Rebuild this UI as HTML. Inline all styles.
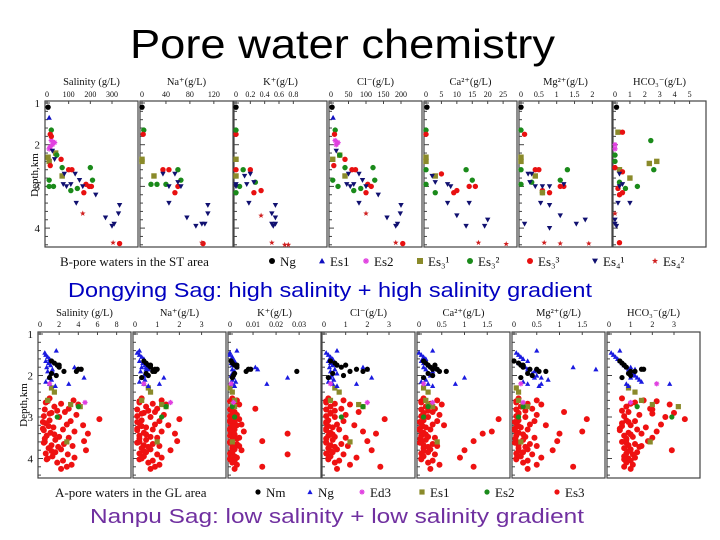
<!DOCTYPE html>
<html><head><meta charset="utf-8"><style>
html,body{margin:0;padding:0;background:#fff;}
svg{display:block;}
.ser{font-family:"Liberation Serif",serif;}
</style></head><body>
<svg id="c" width="720" height="540" viewBox="0 0 720 540" xmlns="http://www.w3.org/2000/svg">
<text x="130" y="58" textLength="425" lengthAdjust="spacingAndGlyphs" font-family="Liberation Sans, sans-serif" font-size="41" fill="#000">Pore water chemistry</text>
<text x="68" y="297" textLength="524" lengthAdjust="spacingAndGlyphs" font-family="Liberation Sans, sans-serif" font-size="20" fill="#0000c0">Dongying Sag:   high salinity  +  high salinity gradient</text>
<text x="90" y="523" textLength="494" lengthAdjust="spacingAndGlyphs" font-family="Liberation Sans, sans-serif" font-size="20" fill="#7030a0">Nanpu Sag:   low salinity  +  low salinity gradient</text>
<g id="g"></g>
</svg>
<script>
// ---------- TOP (Dongying) data: [series, value, depth] ----------
const topTitles = ["Salinity (g/L)","Na⁺(g/L)","K⁺(g/L)","Cl⁻(g/L)","Ca²⁺(g/L)","Mg²⁺(g/L)","HCO₃⁻(g/L)"];
const topTicks = [[0,100,200,300],[0,40,80,120],[0,0.2,0.4,0.6,0.8],[0,50,100,150,200],[0,5,10,15,20,25],[0,0.5,1.0,1.5,2.0],[0,1,2,3,4,5]];
const topMax = [420,152,1.27,260,29.5,2.55,6.1];
const topSal = [["ng",5,1.1],["es1",10,1.35],["es2",20,1.9],["es2",25,2.0],["es2",15,2.05],["es2",35,1.95],["es2",10,2.1],
["s31",5,2.3],["s31",10,2.4],["s31",40,2.2],["s31",70,2.75],
["s32",20,1.65],["s32",45,2.25],["s32",10,2.85],["s32",10,3.0],["s32",30,3.0],["s32",70,2.55],["s32",110,3.1],["s32",140,3.05],["s32",200,2.55],["s32",210,2.85],
["s33",15,1.75],["s33",20,1.8],["s33",15,2.5],["s33",65,2.35],["s33",100,2.6],["s33",115,2.6],["s33",180,2.95],["s33",195,3.0],["s33",205,3.0],["s33",170,3.15],["s33",335,4.37],
["s41",25,2.15],["s41",35,2.35],["s41",80,2.7],["s41",75,2.95],["s41",90,3.0],["s41",110,2.95],["s41",130,2.7],["s41",150,2.85],["s41",165,3.0],["s41",225,3.2],["s41",135,3.4],["s41",270,3.75],["s41",300,3.95],["s41",310,3.9],["s41",335,3.45],["s41",330,3.65],
["s42",165,3.65],["s42",305,4.35]];
const topNa = [["ng",0,1.1],["s32",3,1.65],["s32",15,2.95],["s32",25,2.95],["s32",40,2.95],["s32",60,2.6],["s32",65,2.85],
["s33",2,1.75],["s33",35,2.6],["s33",45,2.6],["s33",55,3.15],["s33",60,3.0],["s33",102,4.37],
["s31",0,2.35],["s31",0,2.4],["s31",20,2.75],
["s41",35,2.7],["s41",45,3.0],["s41",55,2.7],["s41",60,2.9],["s41",65,3.0],["s41",45,3.4],["s41",75,3.75],["s41",90,3.95],["s41",100,3.9],["s41",105,3.9],["s41",110,3.45],["s41",110,3.65],["s42",100,4.35]];
const topK = [["ng",0,1.1],["s33",0,1.75],["s33",0,2.6],["s33",0.2,2.6],["s33",0.25,3.15],["s33",0.35,3.1],
["s32",0,1.65],["s32",0.1,2.6],["s32",0.05,3.0],["s32",0.27,2.9],["s32",0,3.15],["s31",0,2.35],["s31",0,2.75],
["s41",0,2.95],["s41",0,3.0],["s41",0.12,2.75],["s41",0.15,2.95],["s41",0.2,2.7],["s41",0.25,2.9],["s41",0.18,3.4],["s41",0.5,3.9],["s41",0.52,3.95],["s41",0.55,3.9],["s41",0.5,3.65],["s41",0.55,3.75],["s41",0.55,3.45],
["s42",0.35,3.7],["s42",0.5,4.35],["s42",0.68,4.4],["s42",0.73,4.4]];
const topCl = [["ng",3,1.1],["es1",6,1.35],["es2",12,1.9],["es2",15,2.0],["es2",20,1.95],["s31",5,2.35],["s31",25,2.25],["s31",40,2.75],
["s32",12,1.65],["s32",25,2.25],["s32",5,2.85],["s32",20,3.0],["s32",40,2.55],["s32",65,3.1],["s32",85,3.05],["s32",120,2.55],["s32",125,2.85],
["s33",10,1.75],["s33",8,2.5],["s33",40,2.35],["s33",60,2.6],["s33",70,2.6],["s33",105,2.95],["s33",115,3.0],["s33",100,3.15],["s33",205,4.37],
["s41",15,2.15],["s41",50,2.7],["s41",45,2.95],["s41",55,3.0],["s41",65,2.95],["s41",80,2.7],["s41",90,2.85],["s41",100,3.0],["s41",135,3.2],["s41",80,3.4],["s41",160,3.75],["s41",185,3.95],["s41",190,3.9],["s41",200,3.45],["s41",198,3.65],
["s42",100,3.65],["s42",185,4.35]];
const topCa = [["ng",0.3,1.1],["s32",0,1.65],["s32",0,2.6],["s32",0,2.95],["s32",3,3.15],["s32",13,2.6],["s32",15,2.85],
["s33",0,1.75],["s33",5,2.7],["s33",9,3.15],["s33",10,3.1],["s33",14,3.0],["s33",16,3.0],["s31",0,2.3],["s31",0,2.4],["s31",3,2.75],
["s41",2,2.75],["s41",3,2.9],["s41",7,2.95],["s41",8,3.0],["s41",7,3.4],["s41",10,3.7],["s41",13,3.95],["s41",14,3.4],["s41",19,3.95],["s41",20,3.8],
["s42",17,4.35],["s42",26,4.38]];
const topMg = [["ng",0,1.1],["s32",0,1.65],["s32",0,2.6],["s32",0,2.95],["s32",0.3,2.9],["s32",0.6,3.15],["s32",1.3,2.6],["s32",1.1,2.85],
["s33",0.1,1.75],["s33",0.4,2.6],["s33",0.5,2.6],["s33",0.6,3.1],["s33",0.8,3.15],["s33",1.1,3.0],["s33",1.2,3.0],
["s31",0,2.3],["s31",0,2.4],["s31",0.4,2.75],["s31",0.6,3.15],
["s41",0.2,2.7],["s41",0.3,2.7],["s41",0.25,2.9],["s41",0.4,3.0],["s41",0.6,3.0],["s41",0.8,3.0],["s41",1.2,2.95],["s41",0.55,3.4],["s41",0.8,3.45],["s41",1.1,3.7],["s41",0.1,3.9],["s41",0.8,4.0],["s41",1.55,3.9],["s41",1.8,3.8],
["s42",0.65,4.35],["s42",1.1,4.37],["s42",1.9,4.37]];
const topHco = [["ng",0.1,1.1],["es2",0,2.0],["es2",0,2.1],["s32",0,2.25],["s32",0,2.4],["s32",2.4,1.9],["s32",2.6,2.6],["s32",0.3,2.9],["s32",1.5,3.0],["s32",0.7,3.05],
["s31",0.2,1.7],["s31",2.3,2.45],["s31",2.8,2.4],["s31",1.0,2.8],["s31",0.3,2.6],
["s33",0.5,1.7],["s33",0,2.55],["s33",0.5,2.65],["s33",0.3,3.2],["s33",0.5,3.15],["s33",0.2,3.05],["s33",0.3,4.35],
["s41",0.3,2.7],["s41",0.5,2.95],["s41",0.3,3.0],["s41",1.0,3.4],["s41",0.2,3.4],["s41",0,3.9],["s41",0.1,3.95],["s41",0,3.8],["s42",0,3.65]];
const topData = [topSal,topNa,topK,topCl,topCa,topMg,topHco];

// ---------- BOTTOM (Nanpu) data ----------
const botTitles = ["Salinity (g/L)","Na⁺(g/L)","K⁺(g/L)","Cl⁻(g/L)","Ca²⁺(g/L)","Mg²⁺(g/L)","HCO₃⁻(g/L)"];
const botTicks = [[0,2,4,6,8],[0,1,2,3],[0,0.01,0.02,0.03],[0,1,2,3],[0,0.5,1,1.5],[0,0.5,1,1.5],[0,1,2,3]];
const botMax = [9.5,4.1,0.0395,4.2,2.0,2.0,4.2];
const nmDepth = [1.65,1.7,1.75,1.8,1.85,1.85,1.9,1.95,2.0,2.05,1.75,1.9];
const ngDepth = [1.45,1.5,1.55,1.6,1.65,1.7,1.75,1.8,1.85,1.9,1.95,2.0,2.05,2.1,2.15,2.2,2.25,1.8,1.85,2.2,2.05,1.4];
const es1Depth = [2.3,2.4,2.6,2.7,2.75,3.6];
const es2Depth = [2.75,3.0];
const ed3Depth = [2.2,2.65];
const es3Depth = [2.55,2.6,2.62,2.68,2.7,2.75,2.8,2.82,2.88,2.9,2.95,2.98,3.0,3.05,3.08,3.1,3.15,3.18,3.2,3.25,3.28,3.3,3.35,3.38,3.4,3.45,3.48,3.5,3.55,3.58,3.6,3.65,3.68,3.7,3.75,3.78,3.8,3.85,3.88,3.9,3.95,3.98,4.0,4.05,4.1,4.15,4.2,4.25,2.65,2.85,3.12,3.42,3.62,3.82,4.02,3.22,3.52,3.72,2.92,3.32];
const nmVals = [[1.2,1.5,1.8,2.0,4.0,4.3,3.8,1.2,1.7,1.0,2.0,2.5],[.4,.5,.6,.7,.9,1.0,.8,.5,.6,.3,.7,.9],[.0005,.001,.002,.003,.008,.009,.007,.002,.0015,.001,.003,.029],[.3,.5,.6,.8,1.5,2.0,1.8,.4,.9,.2,1.0,1.2],[.1,.15,.2,.25,.3,.4,.45,.2,.3,.1,.35,.6],[0,.1,.15,.2,.35,.5,.55,.3,.4,.15,.2,.7],[.5,.6,.7,.8,1.5,1.6,1.2,.9,1.0,.6,.7,1.0]];
const ngVals = [[.5,.6,.8,1.0,.6,.9,1.1,.7,1.3,.8,1.4,1.0,.9,1.2,.6,1.0,1.6,3.6,4.2,3.0,4.6,1.7],[.1,.2,.3,.4,.2,.35,.45,.3,.5,.25,.55,.4,.3,.45,.2,.4,.6,.5,.6,1.1,1.3,.2],[0,0,.001,.001,.002,.0005,.001,.003,.001,.002,.001,.0005,.0015,.001,.0025,.001,.002,.011,.012,.016,.025,.003],[.1,.2,.3,.4,.2,.3,.4,.25,.5,.3,.6,.35,.3,.45,.2,.4,.6,1.8,2.0,1.5,2.2,.6],[0,.05,.1,.15,.05,.1,.2,.1,.15,.3,.2,.25,.1,.15,.05,.2,.3,.35,.4,.8,1.0,.3],[.05,.1,.15,.2,.3,.1,.2,.25,.3,.45,.4,.5,.6,.75,.2,.3,.55,1.3,1.8,.6,.45,.5],[.1,.2,.3,.4,.5,.6,.7,.8,.9,1.0,1.1,1.2,1.3,1.4,1.5,.8,.9,1.0,1.2,2.8,1.0,.5]];
const es1Vals = [[1.2,1.5,.8,3.2,4.2,2.8],[.6,.7,.3,1.2,1.4,1.0],[0,.001,.002,.001,.002,.001],[.5,.7,.3,1.6,1.8,1.2],[.1,.2,.15,.2,.3,.4],[.05,.1,.1,.2,.3,.15],[.9,1.2,1.5,2.0,3.2,1.9]];
const es2Vals = [[4.0,1.8],[1.4,1.2],[.001,.002],[1.8,.8],[.2,.1],[.2,.1],[1.3,2.9]];
const ed3Vals = [[1.0,4.7],[.4,1.6],[.0005,.0015],[.3,2.0],[.1,.3],[.15,.2],[2.2,1.0]];
const es3Sal = [1.0,3.5,0.8,2.2,4.0,1.5,3.0,0.5,2.6,1.2,3.8,0.4,2.0,6.2,1.0,3.2,0.6,2.8,4.5,1.4,0.3,2.4,3.6,1.1,5.0,0.7,2.0,3.0,1.6,4.6,0.5,2.5,1.2,3.4,0.9,2.2,4.8,1.6,0.6,2.9,1.3,3.6,0.8,2.4,1.8,3.3,2.8,2.2,0.6,1.8,0.3,1.5,0.4,1.2,0.7,0.9,0.5,1.9,1.0,0.4];
const es3Na = [0.3,1.2,0.2,0.8,1.4,0.5,1.0,0.1,0.9,0.4,1.3,0.1,0.7,2.0,0.3,1.1,0.2,0.9,1.5,0.5,0.1,0.8,1.2,0.4,1.8,0.2,0.7,1.0,0.5,1.9,0.2,0.8,0.4,1.1,0.3,0.7,1.6,0.5,0.2,1.0,0.4,1.2,0.3,0.8,0.6,1.1,0.9,0.7,0.2,0.6,0.1,0.5,0.1,0.4,0.2,0.3,0.2,0.6,0.3,0.1];
const es3K = [0.001,0.003,0,0.002,0.004,0.001,0.011,0,0.002,0.001,0.003,0,0.001,0.004,0,0.002,0.001,0.005,0.003,0.001,0,0.002,0.006,0.001,0.025,0,0.002,0.004,0.001,0.014,0,0.003,0.001,0.004,0.001,0.002,0.005,0.001,0,0.025,0.002,0.003,0,0.002,0.001,0.003,0.014,0.002,0.001,0.001,0,0.002,0,0.001,0,0.001,0.003,0.002,0.001,0];
const es3Cl = [0.2,0.9,0.1,0.5,1.2,0.3,0.8,0.1,1.6,0.3,1.0,0.1,0.5,2.8,0.2,0.9,0.1,0.6,1.4,0.4,0.1,0.7,1.8,0.3,2.4,0.2,0.5,1.0,0.4,2.0,0.1,0.8,0.3,1.1,0.2,0.6,2.2,0.4,0.1,0.9,0.3,1.5,0.2,0.7,0.5,1.2,2.6,0.6,0.1,0.5,0.1,0.4,0.1,0.3,0.2,0.2,0.1,0.5,0.3,0.1];
const es3Ca = [0.1,0.4,0.05,0.25,0.5,0.15,0.35,0.05,0.3,0.1,0.45,0.05,0.2,1.75,0.1,0.4,0.05,0.3,0.55,0.15,0.02,0.25,1.6,0.1,1.4,0.05,0.2,0.35,0.15,1.2,0.05,0.3,0.1,0.4,0.1,0.25,1.0,0.2,0.05,0.35,0.1,0.9,0.05,0.3,0.2,0.45,1.2,0.25,0.05,0.2,0.02,0.15,0.02,0.1,0.05,0.08,0.03,0.2,0.1,0.02];
const es3Mg = [0.1,0.5,0.05,0.3,0.6,0.15,0.4,0.05,1.1,0.1,0.5,0.05,0.25,1.6,0.1,0.45,0.05,0.35,0.7,0.15,0.02,0.3,1.5,0.1,1.0,0.05,0.25,0.45,0.2,0.95,0.05,0.35,0.1,0.5,0.1,0.3,0.85,0.2,0.05,0.4,0.15,0.6,0.05,0.3,0.2,0.5,1.3,0.3,0.05,0.25,0.02,0.2,0.02,0.1,0.05,0.1,0.03,0.25,0.1,0.02];
const es3Hco = [0.6,1.6,2.2,1.0,2.8,0.8,1.9,2.0,0.9,3.0,1.4,0.7,2.6,3.5,0.8,1.2,0.6,2.4,1.0,1.7,0.5,1.3,2.2,0.9,1.5,0.7,1.1,2.0,0.8,1.8,0.6,1.2,0.9,1.5,0.7,1.0,2.9,1.3,0.8,1.1,0.7,1.2,0.9,1.0,0.8,1.1,0.7,1.0,1.2,0.6,0.9,1.0,0.8,0.9,0.7,0.6,0.8,1.4,2.0,0.5];
const es3Vals = [es3Sal,es3Na,es3K,es3Cl,es3Ca,es3Mg,es3Hco];

const topLegend = [["ng","Ng",272],["es1","Es1",322],["es2","Es2",366],["s31","Es₃¹",420],["s32","Es₃²",470],["s33","Es₃³",530],["s41","Es₄¹",595],["s42","Es₄²",655]];
const botLegend = [["nm","Nm",258],["ng2","Ng",310],["ed3","Ed3",362],["es1b","Es1",422],["es2b","Es2",487],["es3","Es3",557]];

const NS="http://www.w3.org/2000/svg";
const G=document.getElementById('g');
function mk(tag,attrs,parent){const e=document.createElementNS(NS,tag);for(const k in attrs)e.setAttribute(k,attrs[k]);(parent||G).appendChild(e);return e;}
const STY={ng:["circle","#000"],nm:["circle","#000"],es1:["tri","#1010c0"],ng2:["tri","#1a1ae0"],es2:["star","#e040e0"],ed3:["star","#e040e0"],
s31:["sq","#8a8a2a"],es1b:["sq","#8a8a2a"],s32:["circle","#1a8a1a"],es2b:["circle","#1a8a1a"],s33:["circle","#e81010"],es3:["circle","#ee1111"],
s41:["tridown","#101070"],s42:["pstar","#d02020"]};
function marker(ser,x,y,r,parent){
  const [shape,col]=STY[ser];let e;
  if(shape==="circle") e=mk("circle",{cx:x,cy:y,r:r,fill:col},parent);
  else if(shape==="sq") e=mk("rect",{x:x-r,y:y-r,width:2*r,height:2*r,fill:col},parent);
  else if(shape==="tri") e=mk("polygon",{points:`${x},${y-r} ${x-r},${y+r*0.8} ${x+r},${y+r*0.8}`,fill:col},parent);
  else if(shape==="tridown") e=mk("polygon",{points:`${x-r},${y-r*0.8} ${x+r},${y-r*0.8} ${x},${y+r}`,fill:col},parent);
  else if(shape==="star") e=mk("path",{d:`M${x-r} ${y}H${x+r}M${x} ${y-r}V${y+r}M${x-r*.7} ${y-r*.7}L${x+r*.7} ${y+r*.7}M${x-r*.7} ${y+r*.7}L${x+r*.7} ${y-r*.7}`,stroke:col,"stroke-width":1.2},parent);
  else { let p=[];for(let i=0;i<10;i++){const a=-Math.PI/2+i*Math.PI/5,rr=i%2?r*0.45:r*1.1;p.push((x+rr*Math.cos(a)).toFixed(1)+","+(y+rr*Math.sin(a)).toFixed(1));} e=mk("polygon",{points:p.join(" "),fill:col},parent);}
  return e;
}
function fmt(v){return String(v);}

function panelGrid(cfg){
  const {lefts,width,top,bottom,d1y,pxPerKm,titles,ticks,maxes,prefix,titleY,tickY}=cfg;
  const yS=d=>d1y+(d-1)*pxPerKm;
  for(let i=0;i<7;i++){
    const L=lefts[i],xS=v=>L+2+v/maxes[i]*(width-2);
    const pg=mk("g",{});
    
    
    const box=mk("rect",{x:L,y:top,width:width,height:bottom-top,fill:"none",stroke:"#444","stroke-width":1.2},pg);
    
    
    const t=mk("text",{x:L+width/2,y:titleY,"text-anchor":"middle","font-size":10.5,class:"ser",fill:"#111"},pg);
    t.textContent=titles[i];
    
    
    ticks[i].forEach(v=>{
      const x=xS(v);
      const tl=mk("text",{x:x,y:tickY,"text-anchor":"middle","font-size":8,class:"ser",fill:"#111"},pg);
      tl.textContent=fmt(v);
      
      
      mk("line",{x1:x,x2:x,y1:top,y2:top+3,stroke:"#444"},pg);
    });
    for(let d=1;d<=4.5;d+=0.2){const y=yS(d);mk("line",{x1:L,x2:L+(Math.abs(d-Math.round(d))<0.01?5:3),y1:y,y2:y,stroke:"#444","stroke-width":1},pg);}
  }
  [1,2,3,4].forEach(d=>{
    const tl=mk("text",{x:lefts[0]-5,y:yS(d)+4,"text-anchor":"end","font-size":11,class:"ser",fill:"#111"});
    tl.textContent=String(d);
    
    
  });
  return yS;
}

const tLefts=[45,140,234,329,424,519,613];
const tw=93;
const yT=panelGrid({lefts:tLefts,width:tw,top:101,bottom:247,d1y:103,pxPerKm:41.7,titles:topTitles,ticks:topTicks,maxes:topMax,prefix:"top",titleY:85,tickY:97});
topData.forEach((arr,i)=>{
  arr.forEach(([s,v,d])=>{
    const x=tLefts[i]+2+v/topMax[i]*(tw-2);
    const m=marker(s,x,yT(d),2.7);
    
    
  });
});
const bLefts=[38,133,228,322,417,512,607];
const bw=93;
const yB=panelGrid({lefts:bLefts,width:bw,top:332,bottom:478,d1y:334,pxPerKm:41.5,titles:botTitles,ticks:botTicks,maxes:botMax,prefix:"bottom",titleY:316,tickY:327});
for(let i=0;i<7;i++){
  const xS=v=>bLefts[i]+2+v/botMax[i]*(bw-2);
  const groups=[["es3",es3Vals[i],es3Depth],["es1b",es1Vals[i],es1Depth],["es2b",es2Vals[i],es2Depth],["ng2",ngVals[i],ngDepth],["ed3",ed3Vals[i],ed3Depth],["nm",nmVals[i],nmDepth]];
  groups.forEach(([s,vals,dep])=>{
    vals.forEach((v,k)=>{
      const m=marker(s,xS(v),yB(dep[k]),s==="es3"?3:2.6);
      
      
    });
  });
}
const yl1=mk("text",{x:0,y:0,transform:"translate(38,175) rotate(-90)","text-anchor":"middle","font-size":11,class:"ser"});
yl1.textContent="Depth,km";


const yl2=mk("text",{x:0,y:0,transform:"translate(27,405) rotate(-90)","text-anchor":"middle","font-size":11,class:"ser"});
yl2.textContent="Depth,km";


const lt1=mk("text",{x:60,y:266,"font-size":13,class:"ser",fill:"#111"});
lt1.textContent="B-pore waters in the ST area";


topLegend.forEach(([s,l,x])=>{
  const m=marker(s,x,261,3);
  
  
  const t=mk("text",{x:x+8,y:266,"font-size":13,class:"ser",fill:"#111"});
  t.textContent=l;
  
  
});
const lt2=mk("text",{x:55,y:497,"font-size":13,class:"ser",fill:"#111"});
lt2.textContent="A-pore waters in the GL area";


botLegend.forEach(([s,l,x])=>{
  const m=marker(s,x,492,2.6);
  
  
  const t=mk("text",{x:x+8,y:497,"font-size":13,class:"ser",fill:"#111"});
  t.textContent=l;
  
  
});
</script>
</body></html>
